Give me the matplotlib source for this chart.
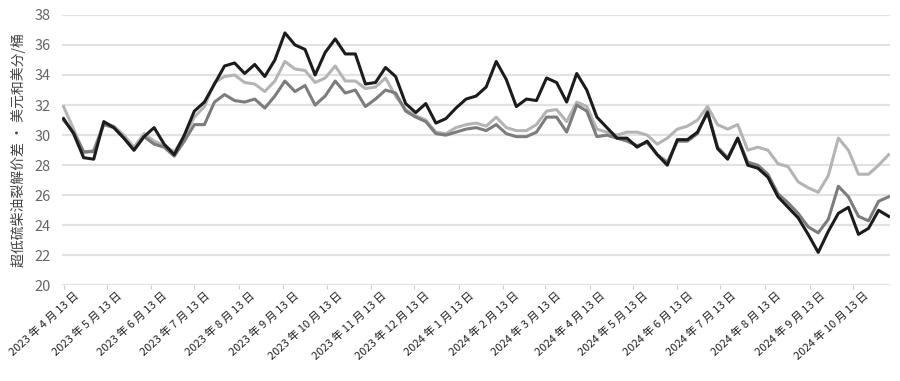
import numpy as np
import pandas as pd
import matplotlib
matplotlib.use("Agg")
import matplotlib.pyplot as plt
import matplotlib.transforms as mtransforms

plt.rcParams['font.family'] = ['Noto Sans CJK SC', 'DejaVu Sans']

# weekly samples
dates = pd.date_range("2023-04-13", periods=83, freq="7D")

dark = [31.1, 30.1, 28.5, 28.4, 30.9, 30.5, 29.8, 29.0, 29.9, 30.5,
        29.4, 28.7, 30.0, 31.6, 32.2, 33.4, 34.6, 34.8, 34.1, 34.7,
        33.9, 35.0, 36.8, 36.0, 35.7, 34.0, 35.5, 36.4, 35.4, 35.4,
        33.4, 33.5, 34.5, 33.9, 32.1, 31.5, 32.1, 30.8, 31.1, 31.8,
        32.4, 32.6, 33.2, 34.9, 33.7, 31.9, 32.4, 32.3, 33.8, 33.5,
        32.2, 34.1, 33.0, 31.2, 30.5, 29.8, 29.8, 29.2, 29.6, 28.7,
        28.0, 29.7, 29.7, 30.2, 31.5, 29.1, 28.4, 29.8, 28.0, 27.8,
        27.2, 25.9, 25.2, 24.5, 23.4, 22.2, 23.6, 24.8, 25.2, 23.4,
        23.8, 25.0, 24.6]

light = [31.9, 30.4, 28.8, 29.0, 30.8, 30.6, 30.0, 29.2, 30.1, 29.6,
         29.3, 28.9, 29.9, 31.2, 31.9, 33.5, 33.9, 34.0, 33.5, 33.4,
         32.9, 33.6, 34.9, 34.4, 34.3, 33.5, 33.8, 34.6, 33.6, 33.6,
         33.1, 33.2, 33.8, 32.6, 31.7, 31.3, 31.0, 30.2, 30.1, 30.5,
         30.7, 30.8, 30.6, 31.2, 30.5, 30.3, 30.3, 30.7, 31.6, 31.7,
         30.9, 32.2, 31.9, 30.4, 30.2, 30.0, 30.2, 30.2, 30.0, 29.4,
         29.8, 30.4, 30.6, 31.0, 31.9, 30.7, 30.4, 30.7, 29.0, 29.2,
         29.0, 28.1, 27.9, 26.9, 26.5, 26.2, 27.3, 29.8, 29.0, 27.4,
         27.4, 28.0, 28.7]

mid = [31.0, 30.2, 28.9, 28.9, 30.7, 30.5, 29.8, 29.0, 29.9, 29.4,
       29.2, 28.6, 29.6, 30.7, 30.7, 32.2, 32.7, 32.3, 32.2, 32.4,
       31.8, 32.6, 33.6, 32.9, 33.3, 32.0, 32.6, 33.6, 32.8, 33.0,
       31.9, 32.4, 33.0, 32.8, 31.6, 31.2, 30.9, 30.1, 30.0, 30.2,
       30.4, 30.5, 30.3, 30.7, 30.1, 29.9, 29.9, 30.2, 31.2, 31.2,
       30.2, 32.0, 31.6, 29.9, 30.0, 29.8, 29.6, 29.3, 29.5, 28.7,
       28.2, 29.6, 29.6, 30.1, 31.6, 29.2, 28.5, 29.8, 28.2, 28.0,
       27.4, 26.1, 25.5, 24.8, 23.9, 23.5, 24.4, 26.6, 25.9, 24.6,
       24.3, 25.6, 25.9]

tick_dates = pd.date_range("2023-04-01", "2024-10-01", freq="MS") + pd.Timedelta(days=12)
tick_labels = [f"{d.year} 年 {d.month} 月 13 日" for d in tick_dates]

fig = plt.figure(figsize=(9, 3.81), dpi=100)
ax = fig.add_axes([0.069, 0.2507, 0.92, 0.7103])

ax.plot(dates, light, color="#b4b4b4", lw=2.2, zorder=3)
ax.plot(dates, mid, color="#7c7c7c", lw=2.2, zorder=4)
ax.plot(dates, dark, color="#1c1c1c", lw=2.2, zorder=5)

ax.set_ylim(20, 38)
ax.set_yticks(np.arange(20, 39, 2))
ax.set_xlim(pd.Timestamp("2023-04-12"), pd.Timestamp("2024-11-08"))
ax.set_xticks(tick_dates)
ax.set_xticklabels([])
ax.tick_params(axis="x", length=3, color="#cccccc")
ax.tick_params(axis="y", length=0, labelsize=10.5, labelcolor="#666666", pad=8)

# date labels drawn by hand: they end a little right of their tick
off = mtransforms.ScaledTranslation(14 / 100, -9 / 100, fig.dpi_scale_trans)
for d, lab in zip(tick_dates, tick_labels):
    ax.text(d, 0, lab, transform=ax.get_xaxis_transform() + off,
            rotation=42, rotation_mode="anchor", ha="right", va="center",
            fontsize=8, fontweight="medium", color="#222222", clip_on=False)

ax.grid(axis="y", color="#e2e2e2", lw=1.6)
ax.set_axisbelow(True)
for s in ax.spines.values():
    s.set_visible(False)

ax.set_ylabel("超低硫柴油裂解价差 · 美元和美分/桶", fontsize=10, color="#444444", labelpad=6)

fig.savefig("out.png", dpi=100)
